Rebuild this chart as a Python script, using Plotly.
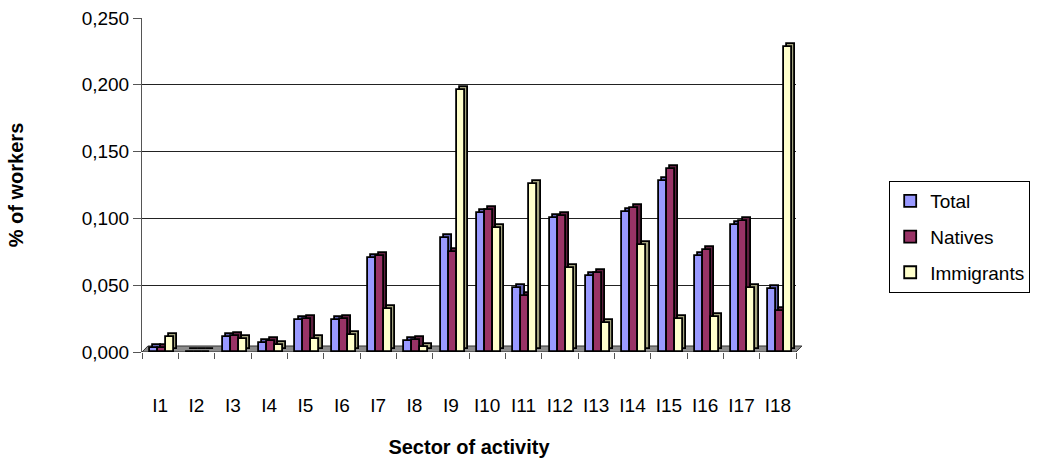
import plotly.graph_objects as go

# Share of workers by sector of activity
sectors = ["I1", "I2", "I3", "I4", "I5", "I6", "I7", "I8", "I9",
           "I10", "I11", "I12", "I13", "I14", "I15", "I16", "I17", "I18"]
total = [0.003, 0.0003, 0.011, 0.007, 0.024, 0.024, 0.070, 0.008, 0.085,
         0.104, 0.048, 0.100, 0.057, 0.105, 0.128, 0.072, 0.095, 0.047]
natives = [0.003, 0.0003, 0.012, 0.008, 0.025, 0.025, 0.072, 0.009, 0.075,
           0.106, 0.042, 0.102, 0.059, 0.108, 0.137, 0.076, 0.098, 0.031]
immigrants = [0.011, 0.0003, 0.010, 0.005, 0.010, 0.013, 0.032, 0.004, 0.196,
              0.093, 0.126, 0.063, 0.022, 0.080, 0.025, 0.026, 0.048, 0.228]

series = [
    ("Total", total, "#9999FF", "#6262B0"),
    ("Natives", natives, "#993366", "#5E1F3F"),
    ("Immigrants", immigrants, "#FFFFCC", "#A3A37E"),
]

FONT = "Liberation Sans, Arial, sans-serif"
BAR_W = 0.22          # front face width (category units)
OFFSETS = [-0.28, -0.06, 0.16]
DEPTH_X = 0.095       # pseudo-3D depth, horizontal (category units)
DEPTH_Y = 0.00225     # pseudo-3D depth, vertical (value units)
EDGE = dict(color="black", width=1.8)

fig = go.Figure()

# side/top faces: darker copies shifted up and to the right
for (name, vals, face, side), off in zip(series, OFFSETS):
    fig.add_trace(go.Bar(
        x=sectors, y=vals, base=[DEPTH_Y] * len(vals),
        offset=off + DEPTH_X, width=BAR_W,
        marker=dict(color=side, line=EDGE),
        showlegend=False, hoverinfo="skip",
    ))

# front faces
for (name, vals, face, side), off in zip(series, OFFSETS):
    fig.add_trace(go.Bar(
        x=sectors, y=vals, name=name, legendgroup=name,
        offset=off, width=BAR_W,
        marker=dict(color=face, line=EDGE),
    ))

# grey floor under the columns
fig.add_shape(
    type="path", xref="paper", yref="y",
    path="M 0,0 L 1,0 L 1.009,0.0045 L 0.009,0.0045 Z",
    fillcolor="#8C8C8C", line=dict(color="#333333", width=1), layer="below",
)

fig.update_layout(
    width=1042, height=461,
    margin=dict(l=142, r=238, t=18, b=109),
    paper_bgcolor="white", plot_bgcolor="white",
    barmode="overlay",
    separators=",.",
    font=dict(family=FONT, size=19, color="black"),
    legend=dict(
        x=1.1425, y=0.512, xanchor="left", yanchor="top",
        bordercolor="black", borderwidth=1,
        font=dict(family=FONT, size=19, color="black"),
        tracegroupgap=8, traceorder="grouped",
        itemwidth=30,
    ),
    xaxis=dict(
        type="category", tickson="boundaries", automargin=False,
        ticks="outside", ticklen=6, tickcolor="#555555",
        showline=False, showgrid=False, zeroline=False,
        ticklabelstandoff=40,
        tickfont=dict(family=FONT, size=19),
        title=dict(text="<b>Sector of activity</b>", standoff=24,
                   font=dict(family=FONT, size=20)),
        range=[-0.5, 17.5],
    ),
    yaxis=dict(
        range=[0, 0.25], dtick=0.05, tickformat=".3f", automargin=False,
        ticks="outside", ticklen=8, tickcolor="#555555",
        showline=True, linecolor="#555555", linewidth=1,
        showgrid=True, gridcolor="#222222", gridwidth=1,
        zeroline=False,
        tickfont=dict(family=FONT, size=19),
        title=dict(text="<b>% of workers</b>", standoff=52,
                   font=dict(family=FONT, size=20)),
    ),
    bargap=0, bargroupgap=0,
)

fig.write_html("out.html")
